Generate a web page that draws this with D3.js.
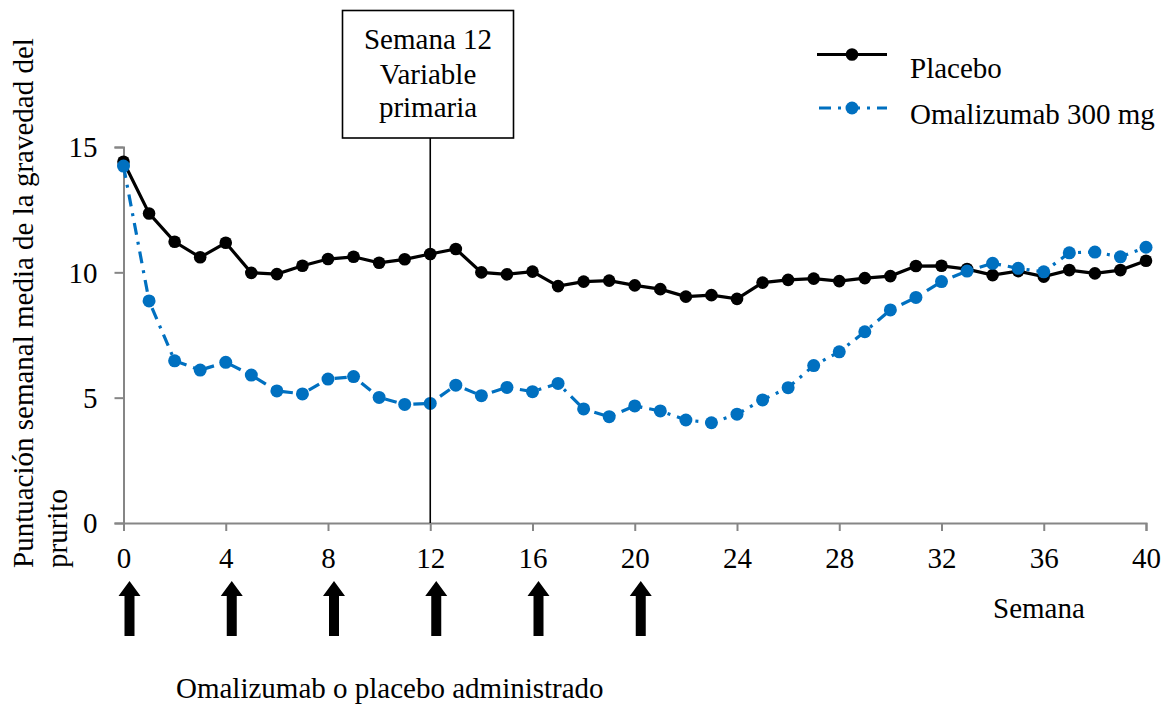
<!DOCTYPE html>
<html><head><meta charset="utf-8">
<script src="https://cdn.jsdelivr.net/npm/d3@7"></script>
<style>
body{margin:0;background:#fff;}
text{font-family:"Liberation Serif","Times New Roman",serif;fill:#000;}
</style></head>
<body><svg id="c" width="1166" height="704"></svg>
<script>
const weeks = d3.range(0, 41);
const placebo = [14.41,12.35,11.22,10.60,11.18,9.98,9.93,10.26,10.53,10.62,10.38,10.52,10.73,10.93,10.0,9.92,10.03,9.45,9.63,9.67,9.48,9.33,9.03,9.09,8.94,9.59,9.70,9.75,9.65,9.77,9.85,10.25,10.26,10.13,9.89,10.05,9.83,10.09,9.96,10.09,10.46];
const omalizumab = [14.24,8.86,6.47,6.10,6.41,5.90,5.27,5.15,5.74,5.84,5.01,4.73,4.77,5.50,5.08,5.41,5.24,5.57,4.55,4.24,4.67,4.47,4.11,4.00,4.34,4.91,5.40,6.28,6.83,7.63,8.50,9.00,9.63,10.05,10.36,10.16,10.02,10.78,10.81,10.62,11.0];
const xTicks = [0,4,8,12,16,20,24,28,32,36,40];
const yTicks = [0,5,10,15];
const doseWeeks = [0,4,8,12,16,20];
const seriesNames = ["Placebo","Omalizumab 300 mg"];
const yTitleLines = ["Puntuación semanal media de la gravedad del","prurito"];
const boxLines = ["Semana 12","Variable","primaria"];

const FS = 29;
const svg = d3.select("#c");
const x = d3.scaleLinear().domain([0,40]).range([123.5,1146]);
const y = d3.scaleLinear().domain([0,15]).range([523,147]);
const axisColor = "#868686";

// Y axis
const ya = svg.append("g").attr("transform","translate(123.5,0)")
  .call(d3.axisLeft(y).tickValues(yTicks).tickSize(9).tickPadding(17).tickFormat(d3.format("d")));
ya.select(".domain").attr("stroke",axisColor).attr("stroke-width",2);
ya.selectAll(".tick line").attr("stroke",axisColor).attr("stroke-width",2);
ya.selectAll(".tick text").attr("font-size",FS).style("font-family","Liberation Serif").attr("dy","0.34em");

// X axis
const xa = svg.append("g").attr("transform","translate(0,523)")
  .call(d3.axisBottom(x).tickValues(xTicks).tickSize(8).tickPadding(16).tickFormat(d3.format("d")));
xa.select(".domain").attr("stroke",axisColor).attr("stroke-width",2);
xa.selectAll(".tick line").attr("stroke",axisColor).attr("stroke-width",2);
xa.selectAll(".tick text").attr("font-size",FS).style("font-family","Liberation Serif");

// Y title
const yt = svg.append("text").attr("transform","translate(33,568) rotate(-90)").attr("font-size",FS);
yt.append("tspan").attr("x",0).attr("y",0).text(yTitleLines[0]);
yt.append("tspan").attr("x",0).attr("y",34).text(yTitleLines[1]);

// Lines
const line = d3.line().x((d,i)=>x(weeks[i])).y(d=>y(d));
svg.append("path").datum(placebo).attr("d",line).attr("fill","none").attr("stroke","#000").attr("stroke-width",3.2);
svg.selectAll(".pdot").data(placebo).join("circle").attr("cx",(d,i)=>x(weeks[i])).attr("cy",d=>y(d)).attr("r",6.3).attr("fill","#000");

svg.append("path").datum(omalizumab).attr("d",line).attr("fill","none").attr("stroke","#0070C0").attr("stroke-width",3.2).attr("stroke-dasharray","12,7,3,7");
svg.selectAll(".odot").data(omalizumab).join("circle").attr("cx",(d,i)=>x(weeks[i])).attr("cy",d=>y(d)).attr("r",6.5).attr("fill","#0070C0");

// Week 12 marker
svg.append("line").attr("x1",x(12)).attr("x2",x(12)).attr("y1",138).attr("y2",523).attr("stroke","#000").attr("stroke-width",1.6);
svg.append("rect").attr("x",342.5).attr("y",10.5).attr("width",171).attr("height",127.5).attr("fill","#fff").attr("stroke","#000").attr("stroke-width",1.6);
const boxY = [49,84,117];
boxLines.forEach((t,i)=>svg.append("text").attr("x",428).attr("y",boxY[i]).attr("text-anchor","middle").attr("font-size",FS).text(t));

// Legend
svg.append("line").attr("x1",817).attr("x2",887).attr("y1",54.5).attr("y2",54.5).attr("stroke","#000").attr("stroke-width",3.2);
svg.append("circle").attr("cx",852).attr("cy",54.5).attr("r",6.3).attr("fill","#000");
svg.append("text").attr("x",910).attr("y",78).attr("font-size",FS).text(seriesNames[0]);
svg.append("line").attr("x1",819).attr("x2",887).attr("y1",108).attr("y2",108).attr("stroke","#0070C0").attr("stroke-width",3.2).attr("stroke-dasharray","12,7,3,7");
svg.append("circle").attr("cx",852).attr("cy",108).attr("r",6.5).attr("fill","#0070C0");
svg.append("text").attr("x",910).attr("y",124).attr("font-size",FS).text(seriesNames[1]);

// Dose arrows
svg.selectAll(".arrow").data(doseWeeks).join("path")
  .attr("d",d=>{const cx=x(d)+6; return `M${cx},581 L${cx+11},596 L${cx+5},596 L${cx+5},636 L${cx-5},636 L${cx-5},596 L${cx-11},596 Z`;})
  .attr("fill","#000");

svg.append("text").attr("x",993).attr("y",618).attr("font-size",FS).text("Semana");
svg.append("text").attr("x",176).attr("y",698).attr("font-size",FS).text("Omalizumab o placebo administrado");
</script></body></html>
